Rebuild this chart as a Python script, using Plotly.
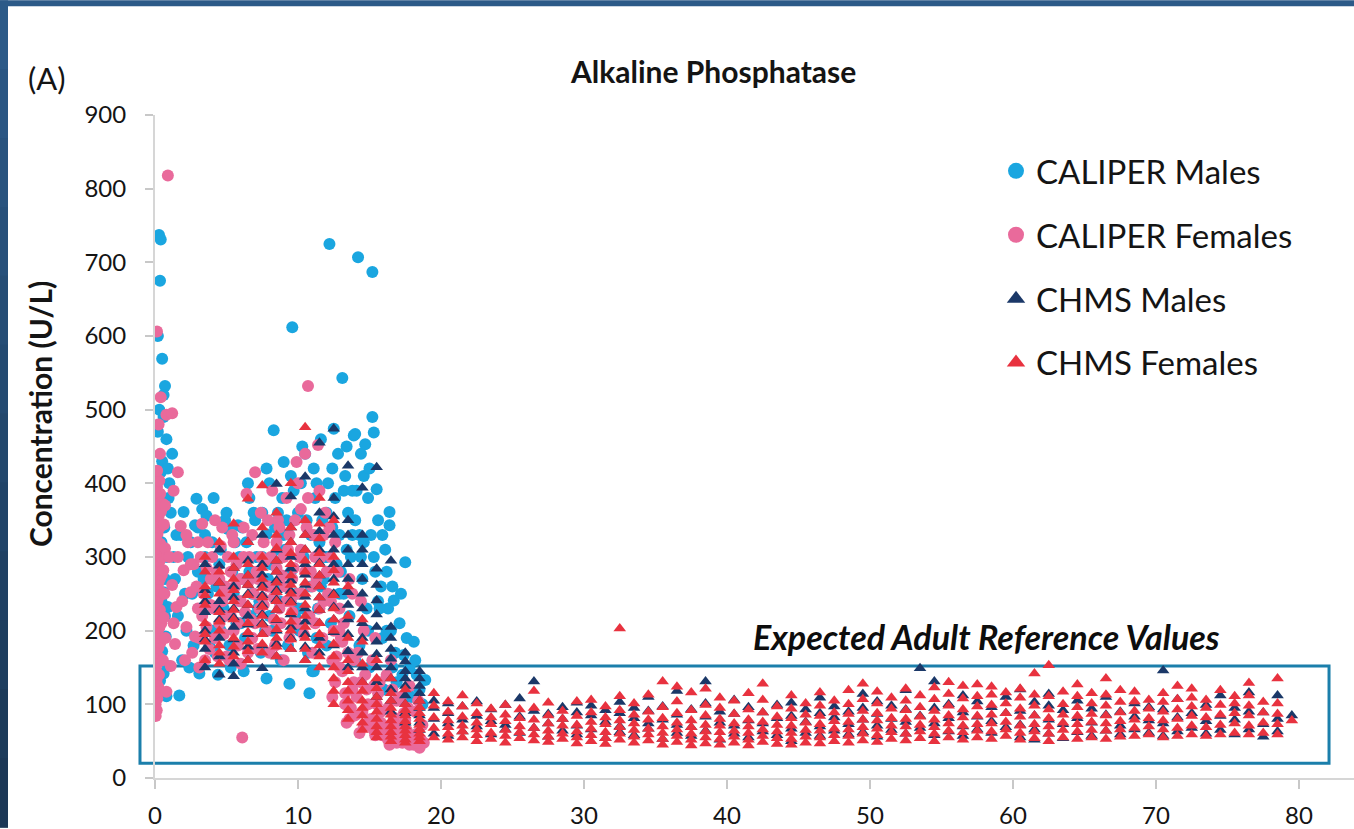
import plotly.graph_objects as go

# ---------------- DATA ----------------
# CALIPER Males (age in years, ALP in U/L)
cal_m_age = [0.28,0.4,0.35,0.2,0.5,0.7,0.6,0.2,0.8,0.5,0.4,0.1,0.3,0.65,0.45,0.85,0.2,0.6,0.9,0.3,0.75,0.5,0.9,0.35,0.8,0.6,1.0,0.95,0.15,0.55,0.7,0.45,0.7,1.7,1.1,1.5,1.3,0.9,1.2,0.6,0.3,
             1.4,1.8,2.0,2.3,2.6,2.9,2.8,1.6,2.2,2.7,3.0,2.4,1.9,
             3.1,3.3,3.5,3.7,3.9,3.2,3.6,3.8,3.4,
             4.0,4.3,4.6,4.9,4.2,4.5,4.8,4.4,
             5.1,5.4,5.7,5.8,5.2,5.5,5.9,5.3,
             6.2,6.0,6.4,6.7,6.9,6.3,6.6,6.8,6.5,
             7.8,7.8,7.8,7.1,7.3,7.5,7.7,7.4,7.9,7.2,
             8.3,8.1,8.4,8.7,8.9,8.2,8.6,8.8,8.5,
             9.0,9.4,9.6,9.2,9.5,9.8,9.1,9.7,9.3,9.9,
             10.8,10.2,10.4,10.6,10.9,10.1,10.5,10.3,10.7,
             11.0,11.2,11.5,11.8,11.1,11.4,11.7,11.9,11.3,11.6,11.1,
             12.2,12.5,12.1,12.4,12.7,12.9,12.3,12.6,12.8,12.0,
             13.1,13.9,13.3,13.5,13.7,13.2,13.6,13.8,13.4,13.0,
             14.2,14.0,14.7,14.1,14.3,14.5,14.8,14.4,14.6,14.9,14.3,
             15.2,15.2,15.3,15.5,15.1,15.4,15.7,15.9,15.6,15.8,15.0,
             16.4,16.4,16.7,16.2,16.5,16.8,16.1,16.6,16.9,16.3,
             17.5,17.4,17.1,17.3,17.7,17.9,17.2,17.6,17.8,
             18.9,18.2,18.5,18.7,18.3,18.1,
             2.1,2.5,3.0,3.5,4.1,4.6,5.0,5.6,6.1,6.6,7.0,7.5,8.0,8.6,9.0,9.5,10.0,10.3,10.9,11.3,11.6,12.0,
             12.4,12.9,13.2,13.4,13.8,14.0,14.4,14.6,14.9,15.3,15.6,15.9,16.2,16.6,4.0,6.0,8.0,10.0,12.0,14.0,15.0,16.0]
cal_m_alp = [737,731,675,600,569,532,520,470,460,430,415,402,360,340,320,300,282,252,232,212,192,172,152,132,111,142,400,380,330,300,270,240,220,112,360,330,300,420,440,490,500,
             270,330,361,300,250,379,343,220,200,180,280,150,160,
             142,365,300,250,200,230,356,180,270,
             320,260,200,350,170,290,230,140,
             338,280,210,343,180,250,300,150,
             145,270,320,220,360,190,280,250,400,
             420,331,135,300,240,360,200,170,270,230,
             472,290,340,240,380,200,310,160,260,
             429,128,612,350,280,220,310,390,180,250,
             115,400,300,350,260,200,440,230,170,
             145,380,320,270,420,230,350,300,190,460,145,
             725,474,400,340,290,250,210,380,440,300,
             543,465,410,360,300,250,220,330,450,280,
             707,467,453,390,330,270,230,300,410,200,180,
             687,490,469,392,330,280,230,190,350,260,420,
             361,343,241,280,200,170,310,150,130,230,
             293,167,210,140,120,110,250,190,150,
             133,160,120,100,140,185,
             250,320,340,330,380,310,360,320,340,380,350,300,400,360,330,410,360,450,330,400,260,360,
             420,330,390,310,390,350,440,320,380,300,240,330,200,260,200,210,220,230,180,160,150,120]

# CALIPER Females
cal_f_age = [0.05,0.12,0.04,0.16,0.08,0.22,0.1,0.28,0.05,0.18,0.32,0.1,0.24,0.38,0.05,0.16,0.3,0.44,0.1,0.22,0.34,0.05,0.16,0.28,0.42,
             0.1,0.22,0.34,0.48,0.05,0.16,0.3,0.44,0.1,0.22,0.36,0.05,0.18,0.32,0.12,0.26,0.42,0.08,0.2,0.36,0.14,0.3,
             0.55,0.62,0.7,0.58,0.66,0.6,0.72,0.55,0.8,0.14,0.9,0.4,0.8,1.2,0.25,0.35,1.6,0.15,0.05,1.3,0.7,
             1.0,1.2,1.5,1.8,2.0,2.2,2.5,2.8,1.4,1.1,1.6,2.3,2.7,1.9,2.6,1.3,3.0,2.1,
             3.2,3.4,3.6,3.8,3.3,3.9,3.1,3.7,3.5,
             4.1,4.3,4.6,4.8,4.4,4.9,4.2,4.7,4.5,
             5.1,5.3,5.6,5.8,5.4,5.9,5.2,5.7,5.5,
             6.1,6.0,6.3,6.4,6.6,6.8,6.2,6.9,6.5,6.7,
             7.0,7.1,7.3,7.6,7.8,7.4,7.9,7.2,7.7,7.5,
             8.1,8.3,8.6,8.8,8.4,8.9,8.2,8.7,8.5,
             9.1,9.3,9.6,9.9,9.4,9.8,9.2,9.7,9.5,
             10.5,10.7,10.1,10.3,10.6,10.8,10.4,10.9,10.2,10.0,
             11.4,11.1,11.3,11.6,11.8,11.2,11.9,11.5,11.7,
             12.1,12.3,12.5,12.7,12.9,12.2,12.6,12.8,12.4,13.0,
             13.1,13.3,13.5,13.7,13.9,13.2,13.6,13.8,13.4,13.6,
             14.1,14.3,14.5,14.7,14.9,14.2,14.6,14.8,14.4,
             15.1,15.3,15.5,15.7,15.9,15.2,15.6,15.8,15.4,
             16.1,16.4,16.3,16.6,16.8,16.2,16.7,16.9,16.5,
             17.1,17.3,17.5,17.7,17.9,17.2,17.6,17.8,17.4,
             18.1,18.5,18.3,18.7,18.2,18.6,18.8,18.4,
             13.3,13.8,14.0,14.6,14.9,15.0,15.4,15.8,16.0,16.3,16.6,16.9,17.0,17.2,17.5,17.8,18.0,18.3,12.9,13.1,12.4,13.9,14.4,15.3,
             2.2,2.5,2.9,3.0,3.3,3.6,3.9,4.0,4.2,4.5,4.7,4.9,5.0,5.3,5.5,5.8,6.0,6.2,6.5,6.8,7.0,7.2,7.4,7.6,7.9,
             8.0,8.3,8.5,8.7,9.0,9.2,9.4,9.6,9.9,10.0,10.2,10.5,10.7,11.0,11.2,11.5,11.8,12.0,12.3,12.6,12.9,
             3.1,5.0,8.0,11.0,6.0,9.0]
cal_f_alp = [84,92,100,108,116,124,132,140,148,156,163,170,177,184,190,197,204,210,216,222,228,234,240,246,252,
             258,264,270,276,282,288,294,300,306,312,318,325,332,340,348,356,362,370,378,386,395,404,
             372,344,312,282,250,218,190,160,117,606,818,517,493,495,480,440,415,417,388,390,370,
             300,262,232,342,282,205,252,192,182,152,300,320,290,240,170,210,230,160,
             300,250,205,175,345,270,190,320,160,
             230,280,315,195,165,260,350,240,210,
             300,220,260,180,330,240,160,290,200,
             55,270,225,386,300,190,340,250,170,215,
             415,280,230,320,200,360,260,175,295,245,
             300,245,350,210,180,275,390,230,320,
             260,310,225,429,190,350,380,285,240,
             440,532,300,250,340,220,195,280,365,400,
             452,330,270,300,240,210,360,390,190,
             250,300,200,165,230,340,130,280,110,190,
             145,115,170,95,130,210,80,250,75,270,
             110,61,90,140,75,170,200,120,240,
             80,65,100,130,58,160,115,90,190,
             70,45,95,120,55,140,82,105,160,
             60,48,78,95,52,110,65,125,88,
             45,41,60,72,90,52,48,105,
             100,120,85,70,100,72,58,75,60,52,68,48,72,58,62,45,55,48,150,185,160,160,130,125,
             330,290,260,320,220,285,235,300,190,270,340,220,250,280,320,210,240,300,265,330,210,270,300,235,350,
             260,215,285,340,300,240,330,270,210,250,310,280,380,260,300,230,330,280,240,320,200,
             150,165,170,170,155,160]

# CHMS (ages recorded in whole years, plotted at mid-year); one value list per age
chms_m_ages = [3.5,4.5,5.5,6.5,7.5,8.5,9.5,10.5,11.5,12.5,13.5,14.5,15.5,16.5,17.5,18.5,19.5,
               20.5,21.5,22.5,23.5,24.5,25.5,26.5,27.5,28.5,29.5,30.5,31.5,32.5,33.5,34.5,35.5,36.5,37.5,38.5,39.5,
               40.5,41.5,42.5,43.5,44.5,45.5,46.5,47.5,48.5,49.5,50.5,51.5,52.5,53.5,54.5,55.5,56.5,57.5,58.5,59.5,
               60.5,61.5,62.5,63.5,64.5,65.5,66.5,67.5,68.5,69.5,70.5,71.5,72.5,73.5,74.5,75.5,76.5,77.5,78.5,79.5]
chms_m_vals = [
    [150,175,188,200,225,240,255,290], [140,165,190,215,228,240,265,288,310], [138,155,170,188,205,218,230,245,260,285],
    [160,178,195,208,220,235,250,262,275,295,320], [149,180,195,210,222,235,248,262,276,290,330],
    [165,182,200,214,228,242,255,268,280,295,310,399], [175,190,205,222,240,254,268,284,300,320,340,382],
    [160,178,195,212,230,246,262,276,290,310,330,409], [170,190,210,228,245,260,275,292,310,335,360,455],
    [180,198,215,232,250,270,290,310,330,355,380,474], [150,172,195,215,235,252,270,290,310,330,350,424],
    [130,150,170,190,210,230,250,270,290,310,330,394], [110,130,150,168,185,205,222,241,262,284,422],
    [90,105,120,135,150,162,175,190,205,295], [75,88,100,112,125,135,145,158,170], [65,75,85,95,105,115,125,135,145],
    [60,80,95,105],
    [57,74,88,101], [63,79,97], [70,84,104], [59,77,93], [66,72,99], [61,83,108], [68,91,131], [56,74,87],
    [64,80,96], [59,71,89,102], [66,85,98], [54,76,92], [62,70,88,103], [58,81,95], [67,74,91,110], [53,79,97],
    [61,72,86,118], [57,69,93], [64,83,101,131], [52,75,90],
    [60,71,87,106], [55,78,96], [63,74,89], [58,81,99], [50,67,84,102], [61,76,93], [57,70,88,109], [64,82,97],
    [59,73,90], [62,79,95,114], [56,71,87,104], [65,80,98], [60,76,93,119], [68,84,149], [58,74,95,131],
    [63,81,100], [57,70,89,112], [66,83,104], [61,77,96], [69,88,110],
    [55,72,91,120], [52,66,85,103], [60,79,98,114], [54,73,92], [62,81,105], [57,75,94], [64,86,110], [59,71,90],
    [66,83,101], [61,78,96], [57,74,93,146], [63,82,107], [68,88], [60,77,99], [65,84,112], [59,79,95],
    [66,90,116], [56,73,89], [63,80,112], [85]]

chms_f_ages = chms_m_ages
chms_f_vals = [
    [160,185,195,210,235,248,260,280,300], [155,170,180,200,212,225,250,265,280,320],
    [165,178,190,215,228,240,255,270,285,300,345], [160,172,185,198,210,235,248,262,275,290,320,379],
    [170,182,195,208,220,232,245,258,270,285,300,340,397], [165,178,190,202,215,228,240,252,265,280,295,312,330,360],
    [175,188,200,212,225,238,250,262,275,290,305,320,340,400], [160,175,190,205,220,235,250,265,280,295,310,330,350,476],
    [150,165,180,195,210,228,245,260,275,290,305,325,345,380], [100,118,135,150,165,182,200,215,230,248,265,282,300,350],
    [80,92,105,118,130,145,160,190,220,260], [65,75,85,95,105,118,130,155,185,215],
    [55,62,70,80,90,100,110,122,135,160], [50,56,62,70,78,86,95,105,115,135], [48,52,58,64,70,77,85,92,100,120],
    [50,55,60,66,72,80,88,96,105], [55,68,82,98,115],
    [52,60,69,78,90,104], [55,63,71,83,97,112], [50,58,66,75,88,101], [53,61,73,82,94], [48,57,65,77,86,99],
    [54,62,70,81,93], [51,59,68,79,95,118], [49,56,64,74,85,102], [53,60,71,80,91], [47,55,63,72,84,104],
    [50,58,67,76,89,106], [46,54,62,73,82,97], [52,60,69,78,92,111,203], [48,56,65,74,86,101],
    [51,59,67,79,90,113], [45,53,61,70,81,96,131], [49,57,66,75,88,104,124], [44,52,60,69,78,92,116],
    [47,55,63,72,85,99,121], [45,53,62,71,80,95,109],
    [48,56,64,74,87,105], [44,52,61,70,79,93,115], [49,57,66,76,89,106,128], [46,54,63,72,83,97],
    [45,53,61,71,81,94,112], [48,56,65,75,86,101], [47,55,64,73,84,98,116], [50,58,67,77,89,105],
    [48,57,66,76,87,100,119], [51,60,69,79,91,107,128],
    [49,58,67,78,88,101,117], [53,62,71,81,94,109], [51,60,70,80,92,105,121], [54,63,72,83,96,112],
    [50,60,69,79,91,107,123], [55,64,74,85,98,114,130], [52,62,71,82,93,108,125], [55,64,73,84,97,111,127],
    [53,63,74,86,99,113,124], [57,66,76,88,101,116],
    [52,61,71,83,94,109,121], [54,63,73,85,98,113,142], [50,60,70,81,93,111,153], [55,65,75,86,100,117],
    [53,63,73,84,96,111,127], [55,65,76,87,101,115], [53,64,74,85,98,113,135], [56,66,77,89,103,119],
    [57,68,79,91,104,117], [59,70,81,94,106],
    [55,66,78,90,103,115], [57,68,80,93,107,125], [59,71,84,97,109,121], [57,69,82,95,106],
    [59,72,86,99,119], [61,74,88,101,111], [59,71,85,98,112,129], [61,75,89,103], [59,73,87,101,135], [78]]

series_names = ["CALIPER Males", "CALIPER Females", "CHMS Males", "CHMS Females"]
series_colors = ["#1aa6e0", "#e96a9b", "#1b3868", "#e8323f"]
series_symbols = ["circle", "circle", "triangle-up", "triangle-up"]
series_sizes = [12, 12, 11, 11]

title_text = "Alkaline Phosphatase"
panel_label = "(A)"
y_title = "Concentration (U/L)"
box_label = "Expected Adult Reference Values"
box_range = dict(x0=-1.05, x1=82.1, y0=20, y1=152)   # age / U/L extent of the reference box


def flatten(ages, vals):
    fx, fy = [], []
    for a, vs in zip(ages, vals):
        for v in vs:
            fx.append(a)
            fy.append(v)
    return fx, fy


chms_m_x, chms_m_y = flatten(chms_m_ages, chms_m_vals)
chms_f_x, chms_f_y = flatten(chms_f_ages, chms_f_vals)
assert len(cal_m_age) == len(cal_m_alp)
assert len(cal_f_age) == len(cal_f_alp)
assert len(chms_m_ages) == len(chms_m_vals) == len(chms_f_vals)

# ---------------- FIGURE ----------------
W, H = 1354, 829
ML, MR, MT, MB = 155, 0, 115, 49
XMAX = (W - ML - MR) / 14.3
YMAX = 900
FONT = "Lato"
TXT = "#141414"

fig = go.Figure()
xs = [cal_m_age, cal_f_age, chms_m_x, chms_f_x]
ys = [cal_m_alp, cal_f_alp, chms_m_y, chms_f_y]
for i in range(4):
    fig.add_trace(go.Scatter(x=xs[i], y=ys[i], mode="markers", showlegend=False,
                             marker=dict(color=series_colors[i], symbol=series_symbols[i],
                                         size=series_sizes[i], line=dict(width=0)),
                             hoverinfo="skip"))
for i in range(4):
    fig.add_trace(go.Scatter(x=[None], y=[None], mode="markers", name=series_names[i],
                             legendgroup="g%d" % i,
                             marker=dict(color=series_colors[i], symbol=series_symbols[i], size=16)))


def px2paper_x(px):
    return (px - ML) / (W - ML - MR)


def px2paper_y(py):
    return (H - MB - py) / (H - MT - MB)


shapes = []
# frame: top band and left band (gradient imitation)
shapes.append(dict(type="rect", xref="paper", yref="paper", layer="above",
                   x0=px2paper_x(0), x1=1, y0=px2paper_y(6), y1=px2paper_y(0),
                   fillcolor="#2c5a88", line=dict(width=0)))
nseg = 12
for k in range(nseg):
    t = k / (nseg - 1)
    r = int(0x2c + (0x1c - 0x2c) * t)
    g = int(0x5a + (0x38 - 0x5a) * t)
    b = int(0x88 + (0x56 - 0x88) * t)
    y0 = H * k / nseg
    y1 = H * (k + 1) / nseg
    shapes.append(dict(type="rect", xref="paper", yref="paper", layer="above",
                       x0=px2paper_x(0), x1=px2paper_x(8), y0=px2paper_y(y1 + 1), y1=px2paper_y(y0),
                       fillcolor="rgb(%d,%d,%d)" % (r, g, b), line=dict(width=0)))
# reference box
shapes.append(dict(type="rect", xref="paper", yref="paper", layer="below",
                   x0=box_range["x0"] / XMAX, x1=box_range["x1"] / XMAX,
                   y0=box_range["y0"] / YMAX, y1=box_range["y1"] / YMAX,
                   line=dict(color="#1b7fab", width=3), fillcolor="rgba(0,0,0,0)"))

annotations = [
    dict(text="<b>%s</b>" % title_text, xref="paper", yref="paper", x=px2paper_x(713), y=px2paper_y(71),
         xanchor="center", yanchor="middle", showarrow=False, font=dict(family=FONT, size=30, color=TXT)),
    dict(text=panel_label, xref="paper", yref="paper", x=px2paper_x(47), y=px2paper_y(78),
         xanchor="center", yanchor="middle", showarrow=False, font=dict(family=FONT, size=31, color=TXT)),
    dict(text="<b>%s</b>" % y_title, xref="paper", yref="paper", x=px2paper_x(40), y=px2paper_y(415),
         xanchor="center", yanchor="middle", textangle=-90, showarrow=False,
         font=dict(family=FONT, size=30, color=TXT)),
    dict(text="<b><i>%s</i></b>" % box_label, xref="paper", yref="paper", x=px2paper_x(986), y=px2paper_y(638),
         xanchor="center", yanchor="middle", showarrow=False, font=dict(family=FONT, size=34, color="#0d0d0d")),
]

fig.update_layout(
    width=W, height=H,
    margin=dict(l=ML, r=MR, t=MT, b=MB, pad=0),
    paper_bgcolor="white", plot_bgcolor="rgba(0,0,0,0)",
    shapes=shapes, annotations=annotations,
    legend=dict(x=px2paper_x(996), y=px2paper_y(143), xanchor="left", yanchor="top",
                font=dict(family=FONT, size=33, color=TXT), bgcolor="rgba(0,0,0,0)",
                tracegroupgap=18, itemsizing="trace"),
    xaxis=dict(range=[0, XMAX], tickmode="linear", tick0=0, dtick=10, showgrid=False, zeroline=False,
               showline=True, linecolor="#d6d6d6", linewidth=2, ticks="outside", ticklen=9,
               tickcolor="#c8c8c8", tickwidth=1.5, ticklabelstandoff=6,
               tickfont=dict(family=FONT, size=24, color=TXT)),
    yaxis=dict(range=[0, YMAX], tickmode="linear", tick0=0, dtick=100, showgrid=False, zeroline=False,
               showline=True, linecolor="#d6d6d6", linewidth=2, ticks="outside", ticklen=8,
               tickcolor="#c8c8c8", tickwidth=1.5, ticklabelstandoff=14,
               tickfont=dict(family=FONT, size=24, color=TXT)),
)

fig.write_html("out.html")
